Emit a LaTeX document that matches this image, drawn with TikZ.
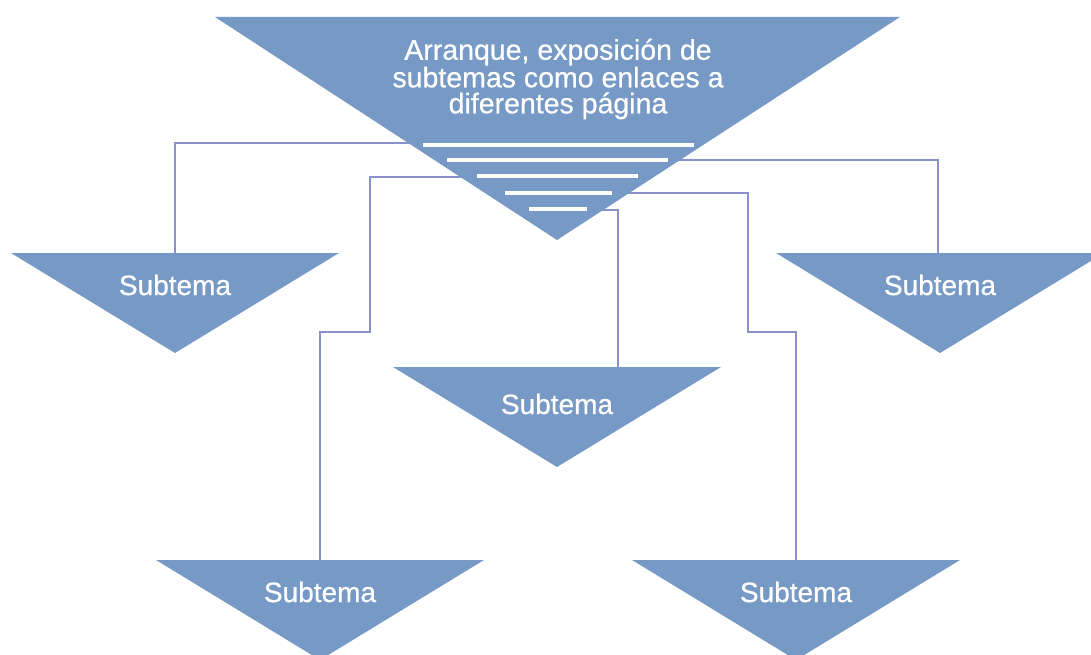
\documentclass[tikz,border=0pt]{standalone}
\usepackage{fontspec}
\setmainfont{Liberation Sans}[FakeBold=0.6]
\newfontfamily\lblfont{Liberation Sans}[FakeBold=0.6]
\definecolor{trifill}{RGB}{118,153,197}
\definecolor{connc}{RGB}{138,144,204}
\begin{document}
\begin{tikzpicture}[x=1pt,y=-1pt,
  tri/.style={fill=trifill},
  wl/.style={draw=white,line width=3.5pt},
  conn/.style={draw=connc,line width=1.8pt},
  lbl/.style={text=white,align=center,inner sep=0pt}]
\useasboundingbox (0,0) rectangle (1091,655);
% connector anchors (start inside the main triangle, hidden by its fill)
\coordinate (e1) at (440,143);
\coordinate (e2) at (490,177);
\coordinate (e3) at (650,160);
\coordinate (e4) at (600,193);
\coordinate (e5) at (580,210);
\coordinate (k2) at (370,332);
\coordinate (k4) at (748,332);
\coordinate (smc) at (618,367);
\coordinate (slt) at (175,253);
\coordinate (srt) at (938,253);
\coordinate (blt) at (320,560);
\coordinate (brt) at (796,560);
\draw[conn] (e1) -| (slt);
\draw[conn] (e3) -| (srt);
\draw[conn] (e5) -| (smc);
\draw[conn] (e2) -| (k2) -| (blt);
\draw[conn] (e4) -| (k4) -| (brt);
% main triangle
\fill[tri] (215,17) -- (900,17) -- (557,240) -- cycle;
\node[lbl,font=\lblfont\fontsize{28.5}{26}\selectfont] (main) at (558,79) {Arranque, exposición de\\subtemas como enlaces a\\diferentes página};
\foreach \y/\a/\b in {145/423/694,160/447/668,176/477/638,193/505/612,209/529/587}
  \draw[wl] (\a,\y) -- (\b,\y);
% sub triangles
\newcommand{\subtri}[4]{%
  \fill[tri] (#2-164,#3) -- (#2+164,#3) -- (#2,#3+100) -- cycle;
  \node[lbl,font=\lblfont\fontsize{28}{26}\selectfont] (#1) at (#2,#3+#4) {Subtema};}
\subtri{sl}{175}{253}{32}
\subtri{sr}{940}{253}{32}
\subtri{sm}{557}{367}{37}
\subtri{bl}{320}{560}{32}
\subtri{br}{796}{560}{32}
\end{tikzpicture}
\end{document}
